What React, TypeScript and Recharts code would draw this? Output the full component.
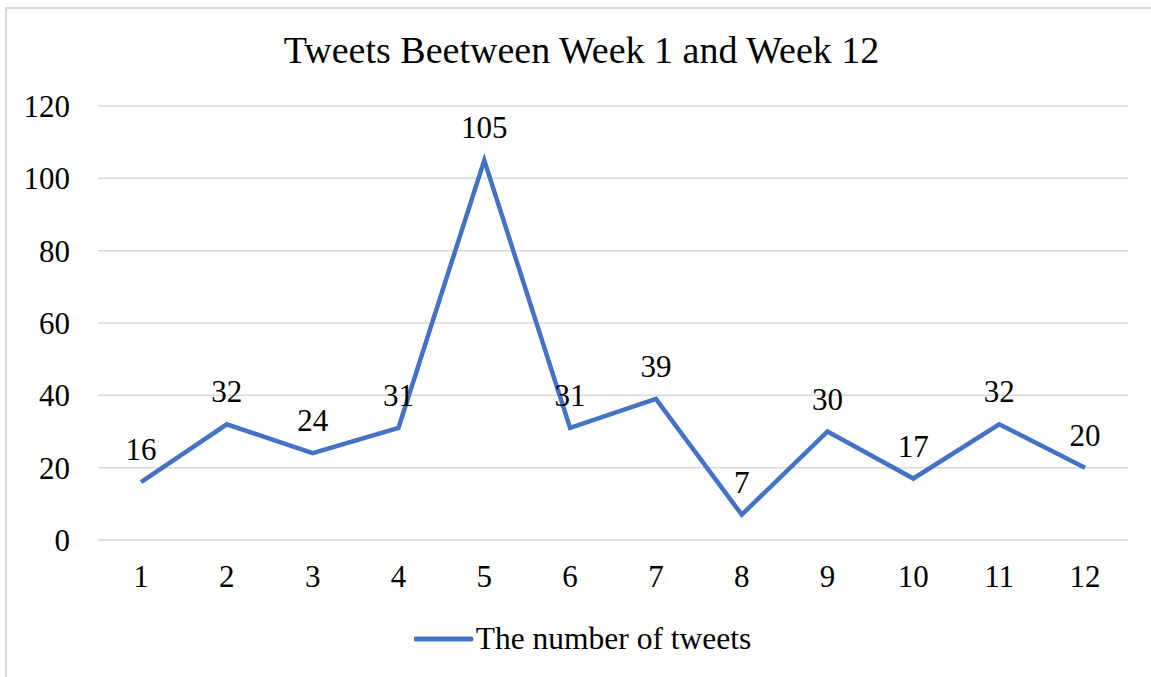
import React from 'react';
import { LineChart, Line, XAxis, YAxis, CartesianGrid, LabelList, Legend } from 'recharts';

const weeks = ['1', '2', '3', '4', '5', '6', '7', '8', '9', '10', '11', '12'];
const tweets = [16, 32, 24, 31, 105, 31, 39, 7, 30, 17, 32, 20];
const yTicks = [0, 20, 40, 60, 80, 100, 120];
const seriesName = 'The number of tweets';
const title = 'Tweets Beetween Week 1 and Week 12';

const data = weeks.map((w, i) => ({ week: w, tweets: tweets[i] }));

const FONT = 'Liberation Serif, Tinos, Times New Roman, serif';
const LINE = '#4472C4';

const LegendContent = () => (
  <div style={{ display: 'flex', justifyContent: 'center', alignItems: 'center', paddingLeft: 14, fontFamily: FONT, fontSize: 31.5, color: '#000' }}>
    <svg width={60} height={10} style={{ marginRight: 2 }}>
      <line x1={2} y1={5} x2={57} y2={5} stroke={LINE} strokeWidth={5} strokeLinecap="round" />
    </svg>
    <span>{seriesName}</span>
  </div>
);

export default function App() {
  return (
    <div style={{ position: 'absolute', left: 0, top: 0, width: 1151, height: 677, background: '#fff', overflow: 'hidden' }}>
      <div style={{ position: 'absolute', left: 5, top: 7, width: 1160, height: 690, border: '2px solid #d9d9d9', boxSizing: 'border-box' }} />
      <div style={{ position: 'absolute', left: 0, top: 27, width: 1151, textAlign: 'center', paddingLeft: 12, boxSizing: 'border-box', fontFamily: FONT, fontSize: 38, lineHeight: '46px', color: '#000' }}>
        {title}
      </div>
      <LineChart width={1151} height={677} data={data} margin={{ top: 106, right: 23, bottom: 0, left: 0 }} style={{ position: 'absolute', left: 0, top: 0, fontFamily: FONT }}>
        <CartesianGrid vertical={false} stroke="#d9d9d9" strokeWidth={1.5} />
        <XAxis dataKey="week" axisLine={false} tickLine={false} tickSize={0} tickMargin={25} height={101} padding={{ left: 43, right: 43 }} tick={{ fontFamily: FONT, fontSize: 31, fill: '#000' }} interval={0} />
        <YAxis domain={[0, 120]} ticks={yTicks} width={98} axisLine={false} tickLine={false} tickSize={0} tickMargin={28} tick={{ fontFamily: FONT, fontSize: 31, fill: '#000' }} interval={0} />
        <Legend verticalAlign="bottom" content={<LegendContent />} wrapperStyle={{ left: 0, width: 1151, bottom: 20, height: 36 }} />
        <Line type="linear" dataKey="tweets" name={seriesName} stroke={LINE} strokeWidth={4.5} dot={false} isAnimationActive={false}>
          <LabelList dataKey="tweets" position="top" offset={22} style={{ fontFamily: FONT, fontSize: 31, fill: '#000' }} />
        </Line>
      </LineChart>
    </div>
  );
}
